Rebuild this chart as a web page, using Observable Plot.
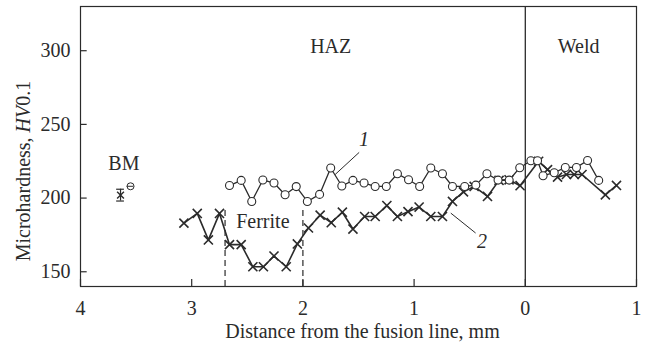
<!DOCTYPE html>
<html><head><meta charset="utf-8">
<script src="https://cdn.jsdelivr.net/npm/d3@7"></script>
<script src="https://cdn.jsdelivr.net/npm/@observablehq/plot@0.6"></script>
<style>
body{margin:0;background:#fff}
#chart svg, #chart svg text { font-family: "Liberation Serif", "Times New Roman", serif !important; }
</style>
</head><body><div id="chart"></div>
<script>
const xTicks = [4, 3, 2, 1, 0, -1];
const yTicks = [150, 200, 250, 300];

// Curve 1 (circles)
const s1x = [2.66, 2.555, 2.46, 2.36, 2.26, 2.16, 2.06, 1.96, 1.85, 1.75, 1.65, 1.55, 1.45, 1.35, 1.25, 1.15, 1.05, 0.95, 0.85, 0.745, 0.655, 0.545, 0.445, 0.345, 0.245, 0.145, 0.05, -0.05, -0.11, -0.16, -0.26, -0.36, -0.46, -0.56, -0.66];
const s1y = [208.5, 212, 197.7, 212.3, 210.2, 202.3, 207.8, 197.7, 202.5, 220.4, 208.2, 212, 210.2, 207.9, 207.9, 216.5, 212.4, 207.9, 220.4, 216.5, 207.9, 207.9, 208.8, 216.5, 212.2, 212.2, 220.6, 225.3, 225.3, 215.2, 217.2, 220.8, 220.8, 225.5, 212];

// Curve 2 (crosses)
const s2x = [3.07, 2.95, 2.85, 2.75, 2.66, 2.555, 2.45, 2.355, 2.26, 2.15, 2.05, 1.95, 1.845, 1.745, 1.645, 1.55, 1.445, 1.35, 1.245, 1.15, 1.055, 0.955, 0.85, 0.745, 0.655, 0.556, 0.46, 0.34, 0.236, 0.146, 0.047, -0.12, -0.2, -0.29, -0.37, -0.44, -0.51, -0.72, -0.82];
const s2y = [183, 189.6, 171.6, 189.6, 168.4, 168.4, 153.4, 153.4, 160.7, 153.4, 168.9, 179.7, 188.4, 183.3, 190.4, 179, 187.5, 187.5, 194.9, 187.5, 190.8, 193.9, 187.5, 187.5, 197.7, 204.2, 207.9, 201.1, 212, 212.4, 208.4, 225, 219.3, 214.2, 216, 216, 216, 202.2, 208.6];

// Base metal (BM) points
const bmCrossX = [3.64], bmCrossY = [202], bmCrossLo = [198], bmCrossHi = [206];
const bmCircX = [3.55], bmCircY = [208];

// Region limits and annotations
const ferriteBounds = [2.7, 2.0];
const fusionLine = [0];
const regionLabels = [
  {x: 1.75, y: 302.5, t: "HAZ"},
  {x: -0.48, y: 302.5, t: "Weld"},
  {x: 3.61, y: 223.5, t: "BM"},
  {x: 2.36, y: 184.2, t: "Ferrite"}
];
const curveLabels = [{x: 1.45, y: 239.5, t: "1"}, {x: 0.39, y: 170.5, t: "2"}];
const leaders = [
  {x1: 1.494, y1: 231, x2: 1.71, y2: 216},
  {x1: 0.447, y1: 176.3, x2: 0.67, y2: 189.8}
];

const d1 = s1x.map((x, i) => ({x, y: s1y[i]}));
const d2 = s2x.map((x, i) => ({x, y: s2y[i]}));
const bmC = bmCrossX.map((x, i) => ({x, y: bmCrossY[i], lo: bmCrossLo[i], hi: bmCrossHi[i]}));
const bmO = bmCircX.map((x, i) => ({x, y: bmCircY[i]}));

const ink = "#2b2b2b";
const fs = 20;

const chart = Plot.plot({
  width: 647, height: 346,
  marginLeft: 80, marginRight: 11, marginTop: 6, marginBottom: 60,
  style: {fontFamily: "Liberation Serif, serif", fontSize: fs + "px", color: ink, background: "#fff"},
  x: {domain: [4, -1]},
  y: {domain: [140, 330]},
  marks: [
    Plot.frame({stroke: ink, strokeWidth: 1.2}),
    Plot.axisX({ticks: xTicks, tickFormat: d => Math.abs(d), tickSize: 0, tickPadding: 14, label: null, fontSize: fs}),
    Plot.axisY({ticks: yTicks, tickSize: 0, tickPadding: 10, label: null, fontSize: fs}),
    Plot.ruleX(xTicks, {x: d => d, y1: 140, y2: 144.8, stroke: ink, strokeWidth: 1.2}),
    Plot.ruleY(yTicks, {y: d => d, x1: 4, x2: 3.94, stroke: ink, strokeWidth: 1.2}),
    Plot.ruleX(fusionLine, {x: d => d, stroke: ink, strokeWidth: 1.3}),
    Plot.ruleX(ferriteBounds, {x: d => d, y1: 140, y2: 192, stroke: ink, strokeWidth: 1.2, strokeDasharray: "6,4"}),
    Plot.line(d1, {x: "x", y: "y", stroke: ink, strokeWidth: 1.3}),
    Plot.line(d2, {x: "x", y: "y", stroke: ink, strokeWidth: 1.6}),
    Plot.dot(d2, {x: "x", y: "y", symbol: "times", r: 4.2, stroke: ink, strokeWidth: 1.6}),
    Plot.dot(d1, {x: "x", y: "y", symbol: "circle", r: 4, fill: "white", stroke: ink, strokeWidth: 1.1}),
    Plot.ruleX(bmC, {x: "x", y1: "lo", y2: "hi", stroke: ink, strokeWidth: 1.2}),
    Plot.ruleY(bmC, {y: "lo", x1: d => d.x + 0.035, x2: d => d.x - 0.035, stroke: ink, strokeWidth: 1.2}),
    Plot.ruleY(bmC, {y: "hi", x1: d => d.x + 0.035, x2: d => d.x - 0.035, stroke: ink, strokeWidth: 1.2}),
    Plot.dot(bmC, {x: "x", y: "y", symbol: "times", r: 3.2, stroke: ink, strokeWidth: 1.4}),
    Plot.dot(bmO, {x: "x", y: "y", symbol: "circle", r: 3.5, fill: "white", stroke: ink, strokeWidth: 1}),
    Plot.ruleY(bmO, {y: "y", x1: d => d.x + 0.03, x2: d => d.x - 0.03, stroke: ink, strokeWidth: 1}),
    Plot.link(leaders, {x1: "x1", y1: "y1", x2: "x2", y2: "y2", stroke: ink, strokeWidth: 1}),
    Plot.text(regionLabels, {x: "x", y: "y", text: "t", fontSize: fs, fill: ink, lineAnchor: "middle"}),
    Plot.text(curveLabels, {x: "x", y: "y", text: "t", fontSize: fs, fontStyle: "italic", fill: ink, lineAnchor: "middle"}),
    Plot.text(["Distance from the fusion line, mm"], {frameAnchor: "bottom", text: d => d, dy: 45.5, dx: 4, fontSize: fs, fill: ink, lineAnchor: "middle"})
  ]
});

const svg = d3.select(chart);
const yl = svg.append("text")
  .attr("transform", "translate(23,171) rotate(-90)")
  .attr("text-anchor", "middle")
  .attr("dominant-baseline", "central")
  .attr("fill", ink)
  .attr("font-size", fs);
yl.append("tspan").text("Microhardness, ");
yl.append("tspan").attr("font-style", "italic").text("HV");
yl.append("tspan").text("0.1");

document.getElementById("chart").append(chart);
</script>
</body></html>
